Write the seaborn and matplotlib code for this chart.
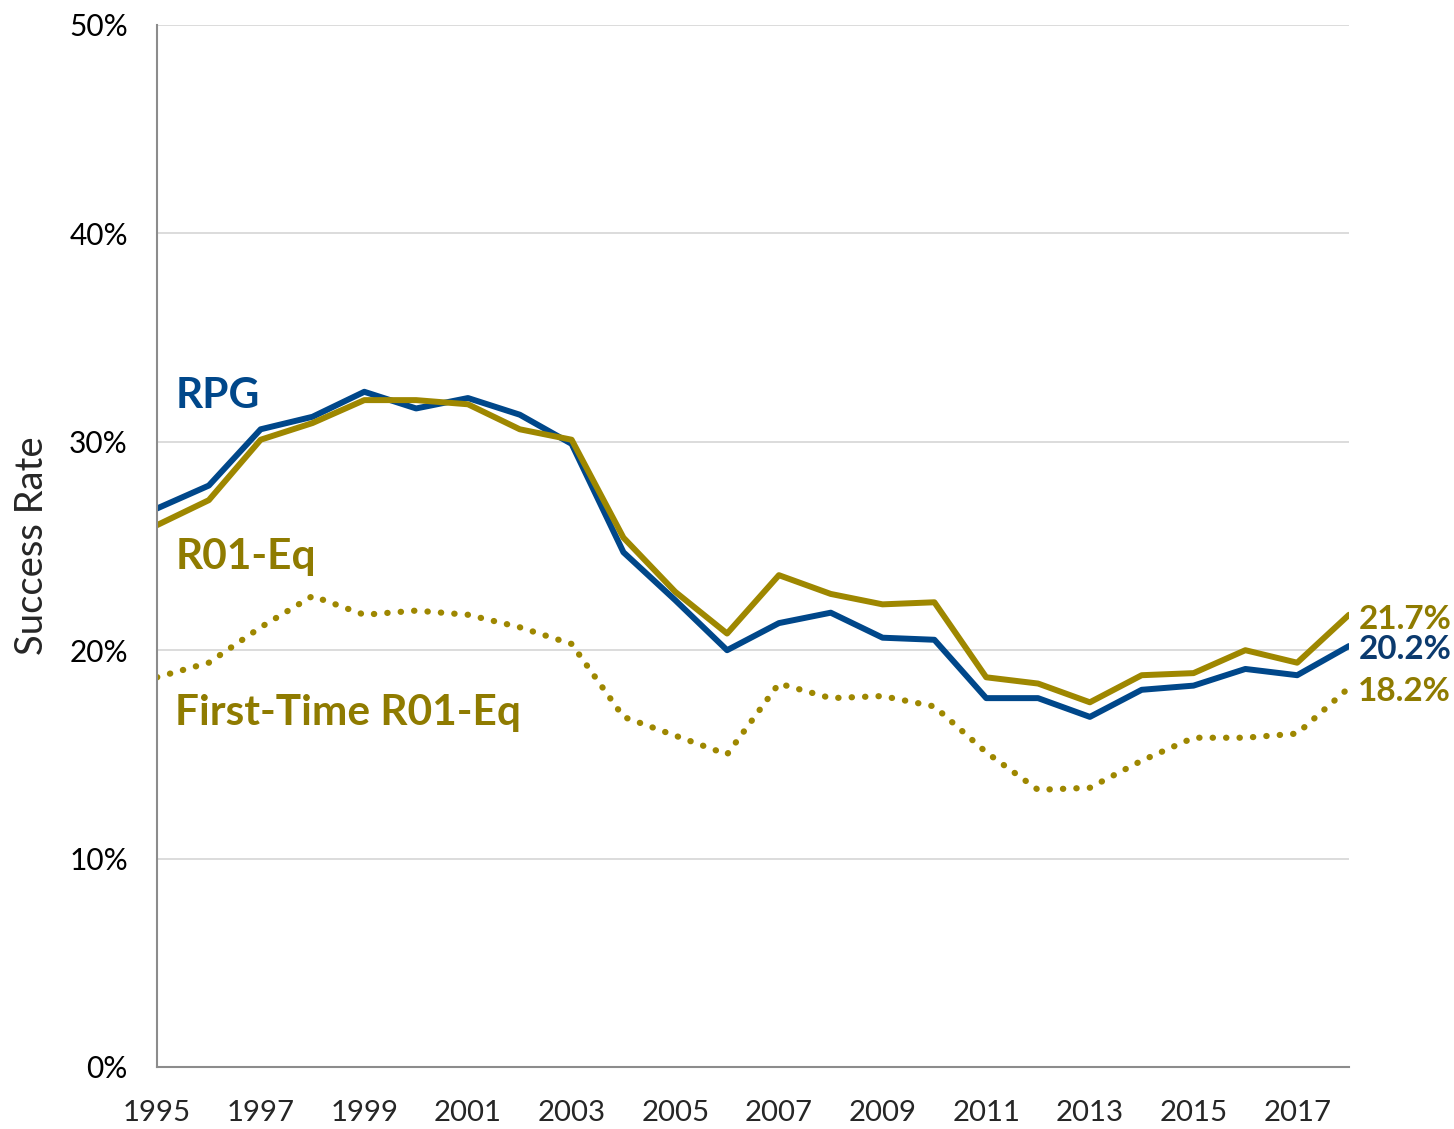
import pandas as pd
import matplotlib.pyplot as plt
import seaborn as sns

# Success rates (%) by fiscal year
years = list(range(1995, 2019))
rpg = [26.8, 27.9, 30.6, 31.2, 32.4, 31.6, 32.1, 31.3, 29.9, 24.7, 22.4, 20.0,
       21.3, 21.8, 20.6, 20.5, 17.7, 17.7, 16.8, 18.1, 18.3, 19.1, 18.8, 20.2]
r01_eq = [26.0, 27.2, 30.1, 30.9, 32.0, 32.0, 31.8, 30.6, 30.1, 25.4, 22.8, 20.8,
          23.6, 22.7, 22.2, 22.3, 18.7, 18.4, 17.5, 18.8, 18.9, 20.0, 19.4, 21.7]
first_time = [18.7, 19.4, 21.1, 22.6, 21.7, 21.9, 21.7, 21.1, 20.3, 16.8, 15.9, 15.0,
              18.4, 17.7, 17.8, 17.3, 15.1, 13.3, 13.4, 14.7, 15.8, 15.8, 16.0, 18.2]

series_names = ["RPG", "R01-Eq", "First-Time R01-Eq"]
y_ticks = [0, 10, 20, 30, 40, 50]

blue = "#00478A"
blue_text = "#0B3A6E"
gold = "#9E8700"
gold_text = "#8F7B00"

df = pd.DataFrame({"year": years, series_names[0]: rpg,
                   series_names[1]: r01_eq, series_names[2]: first_time})

sns.set_theme(style="white")
plt.rcParams['font.family'] = ['Lato', 'DejaVu Sans']

fig = plt.figure(figsize=(14.54, 11.29), dpi=100)
ax = fig.add_axes([157 / 1454, 1 - 1067 / 1129, (1349 - 157) / 1454, (1067 - 25) / 1129])

sns.lineplot(data=df, x="year", y=series_names[0], color=blue, linewidth=4.3, ax=ax)
sns.lineplot(data=df, x="year", y=series_names[1], color=gold, linewidth=4.3, ax=ax)
sns.lineplot(data=df, x="year", y=series_names[2], color=gold, linewidth=4.5,
             linestyle=(0, (0.05, 2.1)), dash_capstyle="round", ax=ax)

ax.set_xlim(1995, 2018)
ax.set_ylim(0, 50)
ax.set_yticks(y_ticks)
ax.set_yticklabels([f"{v}%" for v in y_ticks], fontsize=21.5)
ax.set_xticks(years)
ax.set_xticklabels([str(y) if y % 2 == 1 else "" for y in years], fontsize=21.2)
ax.tick_params(axis="y", length=0, pad=21, colors="black")
ax.tick_params(axis="x", length=9.5, width=1.5, color="#8C8C8C", pad=14.5, direction="out")
ax.yaxis.grid(True, color="#D9D9D9", linewidth=1.3)
ax.xaxis.grid(False)

for side in ["top", "right"]:
    ax.spines[side].set_visible(False)
for side in ["left", "bottom"]:
    ax.spines[side].set_color("#8C8C8C")
    ax.spines[side].set_linewidth(1.5)

ax.set_xlabel("")
ax.set_ylabel("Success Rate", fontsize=27.5)
ax.yaxis.set_label_coords(-0.090, 0.5)

# series labels inside the plot
ax.text(1995.35, 31.62, "RPG", color=blue, fontsize=30.5, fontweight="bold", va="baseline")
ax.text(1995.35, 23.9, "R01-Eq", color=gold_text, fontsize=30.5, fontweight="bold", va="baseline")
ax.text(1995.35, 16.41, "First-Time R01-Eq", color=gold_text, fontsize=30.5, fontweight="bold", va="baseline")

# end-of-line values
ax.text(2018.18, 21.0, f"{r01_eq[-1]}%", color=gold_text, fontsize=24, fontweight="bold", va="baseline")
ax.text(2018.18, 19.58, f"{rpg[-1]}%", color=blue_text, fontsize=24, fontweight="bold", va="baseline")
ax.text(2018.18, 17.56, f"{first_time[-1]}%", color=gold_text, fontsize=24, fontweight="bold", va="baseline")

plt.savefig("out.png", dpi=100)
